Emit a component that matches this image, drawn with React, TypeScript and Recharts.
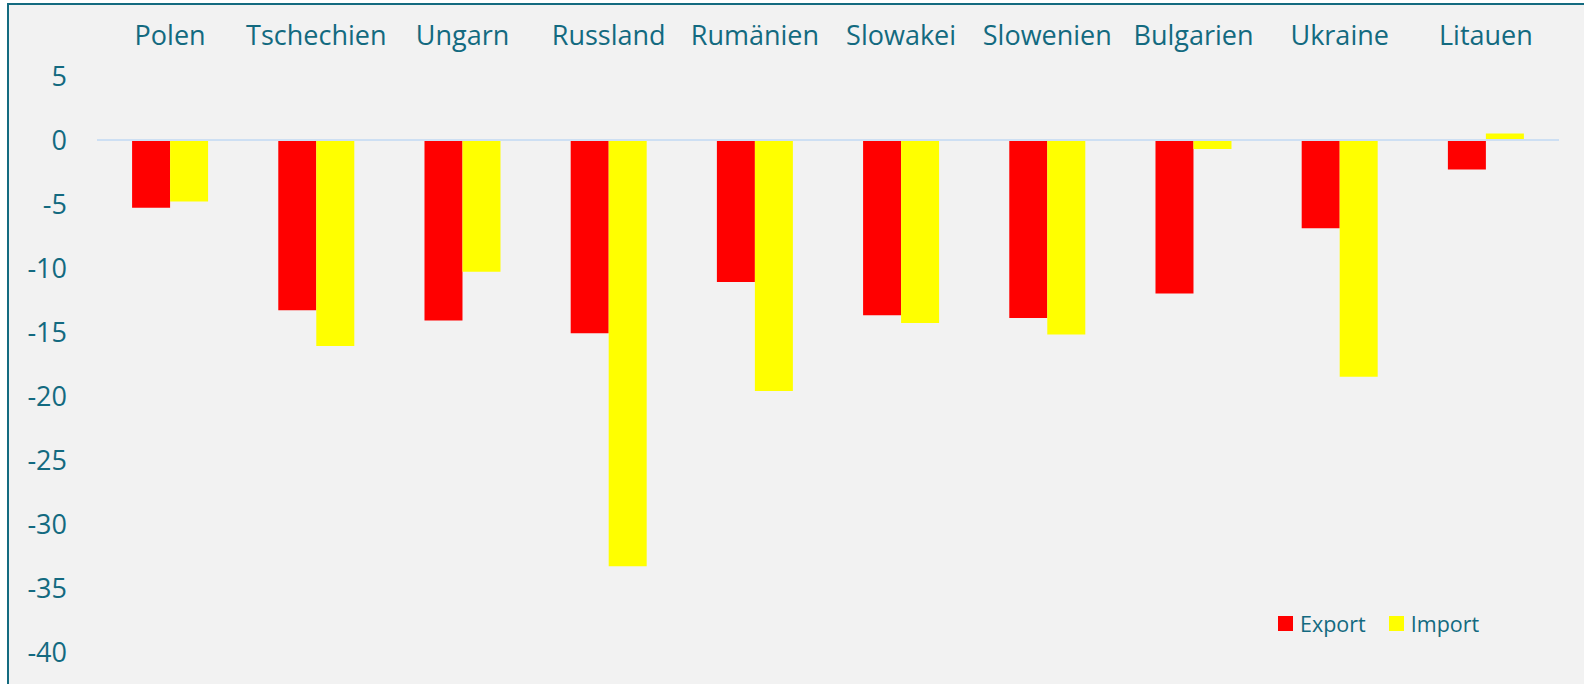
import React from 'react';
import { Bar, BarChart, XAxis, YAxis, ReferenceLine, Legend } from 'recharts';

const countries = ['Polen', 'Tschechien', 'Ungarn', 'Russland', 'Rumänien', 'Slowakei', 'Slowenien', 'Bulgarien', 'Ukraine', 'Litauen'];
const exportValues = [-5.3, -13.3, -14.1, -15.1, -11.1, -13.7, -13.9, -12.0, -6.9, -2.3];
const importValues = [-4.8, -16.1, -10.3, -33.3, -19.6, -14.3, -15.2, -0.7, -18.5, 0.5];
const yTicks = [5, 0, -5, -10, -15, -20, -25, -30, -35, -40];

const chartData = countries.map((name, i) => ({
  name,
  Export: exportValues[i],
  Import: importValues[i],
}));

const textColor = '#136a80';
const font = '"Open Sans", sans-serif';

// legend sits in the lower right corner, drawn from the payload the chart hands over
function renderLegend(props: any) {
  const { payload } = props;
  return (
    <div style={{ display: 'flex', alignItems: 'center', fontFamily: font, fontSize: 21.5, color: textColor }}>
      {payload.map((entry: any, i: number) => (
        <div key={entry.value} style={{ display: 'flex', alignItems: 'center', marginRight: i === 0 ? 23 : 0 }}>
          <span style={{ display: 'inline-block', width: 15, height: 15, background: entry.color, marginRight: 7 }} />
          <span>{entry.value}</span>
        </div>
      ))}
    </div>
  );
}

export default function App() {
  return (
    <div style={{ position: 'absolute', left: 0, top: 0, width: 1584, height: 684, background: '#ffffff', overflow: 'hidden' }}>
      <div
        style={{
          position: 'absolute',
          left: 7,
          top: 3,
          width: 1577,
          height: 681,
          background: '#f2f2f2',
          borderTop: '2px solid #146b80',
          borderLeft: '2px solid #146b80',
          boxSizing: 'border-box',
        }}
      >
        <BarChart
          width={1575}
          height={679}
          data={chartData}
          margin={{ top: 0, right: 25, bottom: 32, left: 0 }}
          barCategoryGap="24%"
          barGap={0}
        >
          <XAxis
            dataKey="name"
            orientation="top"
            height={71}
            axisLine={false}
            tickLine={false}
            tickSize={0}
            tickMargin={31}
            interval={0}
            tick={{ fill: textColor, fontSize: 27, fontFamily: font }}
          />
          <YAxis
            domain={[-40, 5]}
            ticks={yTicks}
            width={88}
            axisLine={false}
            tickLine={false}
            tickSize={0}
            tickMargin={30}
            interval={0}
            tick={{ fill: textColor, fontSize: 27, fontFamily: font }}
          />
          <ReferenceLine y={0} stroke="#cddff3" strokeWidth={2} />
          {/* horizontal + middle + center keeps the legend out of the plot offset */}
          <Legend
            layout="horizontal"
            verticalAlign="middle"
            align="center"
            content={renderLegend}
            wrapperStyle={{ position: 'absolute', left: 1269, top: 604, width: 'auto' }}
          />
          <Bar dataKey="Export" fill="#ff0000" isAnimationActive={false} />
          <Bar dataKey="Import" fill="#ffff00" isAnimationActive={false} />
        </BarChart>
      </div>
    </div>
  );
}
